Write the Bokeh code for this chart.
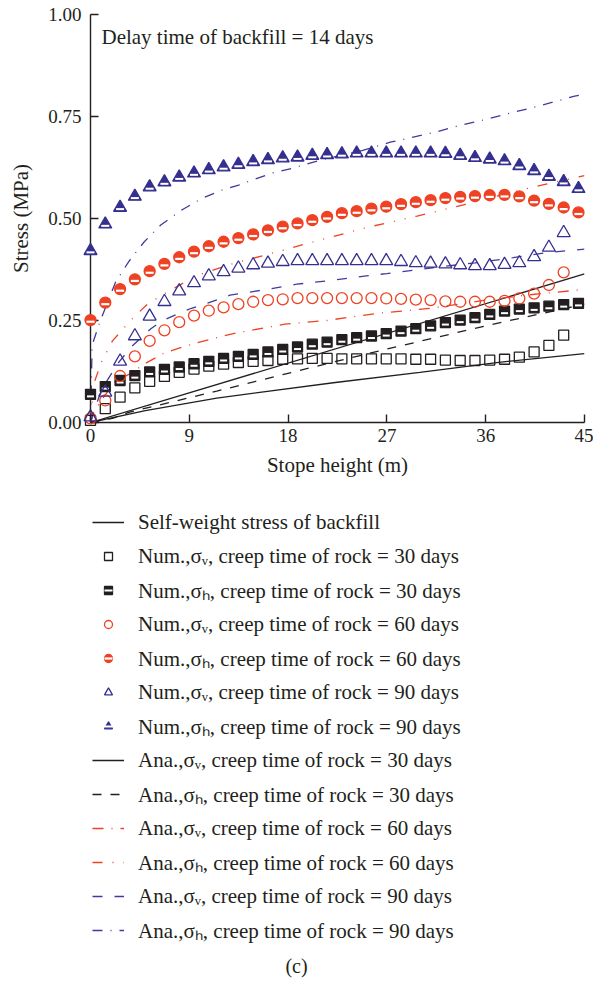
from bokeh.plotting import figure
from bokeh.layouts import column
from bokeh.models import (Range1d, Legend, LegendItem, Label, FixedTicker,
                          NumeralTickFormatter, ColumnDataSource)
from bokeh.transform import dodge
from bokeh.embed import file_html
from bokeh.resources import INLINE

# ---------------- data ----------------
X_TICKS = [0, 9, 18, 27, 36, 45]
Y_TICKS = [0.0, 0.25, 0.5, 0.75, 1.0]

# stope height of numerical points (m)
x_num = [0.0, 1.347, 2.694, 4.041, 5.388, 6.735, 8.082, 9.429, 10.776, 12.123,
         13.47, 14.817, 16.164, 17.511, 18.858, 20.205, 21.552, 22.899, 24.246,
         25.593, 26.94, 28.287, 29.634, 30.981, 32.328, 33.675, 35.022, 36.369,
         37.716, 39.063, 40.41, 41.757, 43.104, 44.451]

num_sv30 = [0.005, 0.034, 0.062, 0.085, 0.101, 0.113, 0.123, 0.131, 0.138, 0.143,
            0.147, 0.150, 0.152, 0.155, 0.156, 0.157, 0.157, 0.156, 0.156, 0.156,
            0.156, 0.156, 0.155, 0.155, 0.153, 0.152, 0.152, 0.153, 0.155, 0.160,
            0.173, 0.189, 0.214]
num_sh30 = [0.069, 0.088, 0.103, 0.115, 0.124, 0.130, 0.136, 0.144, 0.150, 0.157,
            0.162, 0.167, 0.173, 0.179, 0.185, 0.192, 0.197, 0.203, 0.208, 0.212,
            0.218, 0.224, 0.230, 0.237, 0.245, 0.251, 0.257, 0.265, 0.273, 0.278,
            0.281, 0.285, 0.289, 0.292]
num_sv60 = [0.010, 0.054, 0.114, 0.162, 0.200, 0.226, 0.246, 0.262, 0.274, 0.282,
            0.290, 0.296, 0.300, 0.302, 0.305, 0.305, 0.305, 0.305, 0.305, 0.305,
            0.304, 0.303, 0.301, 0.300, 0.297, 0.296, 0.296, 0.296, 0.298, 0.304,
            0.316, 0.337, 0.368]
num_sh60 = [0.251, 0.294, 0.327, 0.351, 0.371, 0.389, 0.405, 0.419, 0.432, 0.443,
            0.452, 0.461, 0.471, 0.480, 0.488, 0.496, 0.504, 0.513, 0.518, 0.524,
            0.529, 0.535, 0.540, 0.545, 0.550, 0.553, 0.555, 0.557, 0.558, 0.554,
            0.544, 0.536, 0.527, 0.515]
num_sv90 = [0.013, 0.074, 0.150, 0.212, 0.260, 0.296, 0.322, 0.342, 0.359, 0.369,
            0.378, 0.386, 0.390, 0.394, 0.396, 0.396, 0.396, 0.396, 0.396, 0.396,
            0.396, 0.394, 0.391, 0.390, 0.388, 0.386, 0.384, 0.384, 0.387, 0.391,
            0.406, 0.429, 0.465]
num_sh90 = [0.421, 0.486, 0.527, 0.554, 0.577, 0.589, 0.601, 0.611, 0.619, 0.626,
            0.632, 0.639, 0.644, 0.648, 0.650, 0.654, 0.656, 0.658, 0.660, 0.660,
            0.660, 0.660, 0.660, 0.660, 0.659, 0.654, 0.649, 0.645, 0.641, 0.629,
            0.617, 0.603, 0.590, 0.573]

# analytical / self-weight curves
sw_x = [0, 45]
sw_y = [0, 0.364]
ana_sv30_x = [0, 5, 11.5, 22.3, 30, 37, 45]
ana_sv30_y = [0, 0.029, 0.060, 0.098, 0.123, 0.147, 0.169]
ana_sh30_x = [0, 2, 3.5, 11.5, 21.5, 27, 36, 45]
ana_sh30_y = [0, 0.010, 0.025, 0.077, 0.144, 0.180, 0.237, 0.290]
ana_sv60_x = [0, 0.3, 1, 2.2, 3.7, 5, 6.7, 8.4, 10.2, 13, 17.7, 21.5, 26, 31, 36, 40, 45]
ana_sv60_y = [0, 0.025, 0.055, 0.099, 0.121, 0.145, 0.170, 0.185, 0.199, 0.218,
              0.241, 0.250, 0.267, 0.280, 0.300, 0.313, 0.326]
ana_sh60_x = [0, 0.3, 1, 2, 3.25, 4, 5.2, 6.5, 7.4, 8.8, 10.2, 12.8, 16.4, 21.4,
              25.5, 29.75, 33.9, 36.9, 41.1, 45]
ana_sh60_y = [0, 0.095, 0.148, 0.200, 0.238, 0.260, 0.290, 0.312, 0.326, 0.347,
              0.365, 0.388, 0.414, 0.451, 0.480, 0.506, 0.533, 0.554, 0.582, 0.605]
ana_sv90_x = [0, 0.8, 1.45, 2.5, 3.7, 5.5, 6.5, 8, 9.2, 10.6, 12.7, 16, 18.8, 21.5,
              25.3, 27, 29.9, 31.9, 35, 38.5, 41.5, 45]
ana_sv90_y = [0, 0.065, 0.100, 0.145, 0.185, 0.230, 0.249, 0.267, 0.280, 0.292,
              0.312, 0.326, 0.339, 0.347, 0.360, 0.365, 0.375, 0.382, 0.391, 0.404,
              0.416, 0.425]
ana_sh90_x = [0, 0.15, 0.9, 2.3, 3.5, 4.9, 6.4, 8.2, 10.2, 12, 13.5, 16.5, 18.4, 20,
              21.7, 24.8, 27.3, 29.3, 31.5, 33.6, 35.7, 38, 40, 42.1, 44.1, 45]
ana_sh90_y = [0, 0.19, 0.25, 0.345, 0.395, 0.443, 0.484, 0.519, 0.55, 0.57, 0.582,
              0.611, 0.623, 0.636, 0.648, 0.667, 0.687, 0.699, 0.712, 0.728, 0.741,
              0.757, 0.770, 0.785, 0.800, 0.804]

labels = [
    "Self-weight stress of backfill",
    "Num.,σᵥ, creep time of rock = 30 days",
    "Num.,σₕ, creep time of rock = 30 days",
    "Num.,σᵥ, creep time of rock = 60 days",
    "Num.,σₕ, creep time of rock = 60 days",
    "Num.,σᵥ, creep time of rock = 90 days",
    "Num.,σₕ, creep time of rock = 90 days",
    "Ana.,σᵥ, creep time of rock = 30 days",
    "Ana.,σₕ, creep time of rock = 30 days",
    "Ana.,σᵥ, creep time of rock = 60 days",
    "Ana.,σₕ, creep time of rock = 60 days",
    "Ana.,σᵥ, creep time of rock = 90 days",
    "Ana.,σₕ, creep time of rock = 90 days",
]

# ---------------- styling ----------------
BLACK = "#231F20"
RED = "#EF4123"
BLUE = "#352F8E"
BLUE_L = "#3F3A9E"
FONT = "Liberation Serif"
LW = 1.3

n_open = len(num_sv30)
src = {
    "sv30": ColumnDataSource(dict(x=x_num[:n_open], y=num_sv30)),
    "sh30": ColumnDataSource(dict(x=x_num, y=num_sh30)),
    "sv60": ColumnDataSource(dict(x=x_num[:n_open], y=num_sv60)),
    "sh60": ColumnDataSource(dict(x=x_num, y=num_sh60)),
    "sv90": ColumnDataSource(dict(x=x_num[:n_open], y=num_sv90)),
    "sh90": ColumnDataSource(dict(x=x_num, y=num_sh90)),
}


def draw_all(fig, level):
    """Draw every series on fig; returns renderer groups in legend order."""
    r_sw = fig.line(sw_x, sw_y, line_color=BLACK, line_width=LW)
    r_av30 = fig.line(ana_sv30_x, ana_sv30_y, line_color=BLACK, line_width=LW)
    r_ah30 = fig.line(ana_sh30_x, ana_sh30_y, line_color=BLACK, line_width=LW,
                      line_dash="9 9")
    r_av60 = fig.line(ana_sv60_x, ana_sv60_y, line_color=RED, line_width=LW,
                      line_dash="11 8 1 8")
    r_ah60 = fig.line(ana_sh60_x, ana_sh60_y, line_color=RED, line_width=LW,
                      line_dash="10 10 1 10 1 10")
    r_av90 = fig.line(ana_sv90_x, ana_sv90_y, line_color=BLUE_L, line_width=LW,
                      line_dash="10 12")
    r_ah90 = fig.line(ana_sh90_x, ana_sh90_y, line_color=BLUE_L, line_width=LW,
                      line_dash="10 8 1 8")

    r_nv30 = fig.scatter("x", "y", source=src["sv30"], marker="square", size=10,
                         line_color=BLACK, fill_alpha=0, line_width=1.3, level=level)
    r_nh30 = fig.scatter("x", "y", source=src["sh30"], marker="square", size=10,
                         line_color=BLACK, fill_color=BLACK, line_width=1.3, level=level)
    r_nh30b = fig.scatter("x", dodge("y", -0.005), source=src["sh30"], marker="dash",
                          size=7, line_color="white", line_width=2, level=level)
    r_nv60 = fig.scatter("x", "y", source=src["sv60"], marker="circle", size=11,
                         line_color=RED, fill_alpha=0, line_width=1.3, level=level)
    r_nh60 = fig.scatter("x", "y", source=src["sh60"], marker="circle", size=11,
                         line_color=RED, fill_color=RED, line_width=1.3, level=level)
    r_nh60b = fig.scatter("x", dodge("y", -0.004), source=src["sh60"], marker="dash",
                          size=8, line_color="white", line_width=2.2, level=level)
    r_nv90 = fig.scatter("x", "y", source=src["sv90"], marker="triangle", size=13,
                         line_color=BLUE, fill_alpha=0, line_width=1.3, level=level)
    r_nh90 = fig.scatter("x", "y", source=src["sh90"], marker="triangle", size=13,
                         line_color=BLUE, fill_color=BLUE, line_width=1.3, level=level)
    r_nh90b = fig.scatter("x", dodge("y", -0.004), source=src["sh90"], marker="dash",
                          size=8, line_color="white", line_width=2, level=level)
    return [
        [r_sw], [r_nv30], [r_nh30, r_nh30b], [r_nv60], [r_nh60, r_nh60b],
        [r_nv90], [r_nh90, r_nh90b], [r_av30], [r_ah30], [r_av60], [r_ah60],
        [r_av90], [r_ah90],
    ]


# ---------------- main chart ----------------
p = figure(width=593, height=490, output_backend="svg", toolbar_location=None,
           title=None, x_range=Range1d(0, 45), y_range=Range1d(0, 1),
           min_border_left=90, min_border_right=9, min_border_top=14,
           min_border_bottom=68)
p.grid.visible = False
p.outline_line_color = None

p.xaxis.ticker = FixedTicker(ticks=X_TICKS)
p.yaxis.ticker = FixedTicker(ticks=Y_TICKS)
p.yaxis.formatter = NumeralTickFormatter(format="0.00")
p.xaxis.axis_label = "Stope height (m)"
p.yaxis.axis_label = "Stress (MPa)"
for ax in (p.xaxis[0], p.yaxis[0]):
    ax.major_tick_in = 8
    ax.major_tick_out = 0
    ax.minor_tick_in = 0
    ax.minor_tick_out = 0
    ax.axis_line_color = BLACK
    ax.axis_line_width = 1.4
    ax.major_tick_line_color = BLACK
    ax.major_tick_line_width = 1.4
    ax.major_label_text_font = FONT
    ax.major_label_text_font_size = "19px"
    ax.major_label_text_color = BLACK
    ax.axis_label_text_font = FONT
    ax.axis_label_text_font_size = "21px"
    ax.axis_label_text_font_style = "normal"
    ax.axis_label_text_color = BLACK
p.xaxis.major_label_standoff = 6
p.xaxis.axis_label_standoff = 8
p.yaxis.major_label_standoff = 9
p.yaxis.axis_label_standoff = 12

draw_all(p, "overlay")

p.add_layout(Label(x=1.0, y=0.946, text="Delay time of backfill = 14 days",
                   text_font=FONT, text_font_size="21px", text_color=BLACK,
                   text_baseline="middle", text_align="left"))

# ---------------- legend panel ----------------
# same series drawn on a panel whose ranges show none of them; only the
# legend (and the caption) are visible here.  The column layout aligns this
# panel's frame with the chart's frame (left edge at x = 90).
q = figure(width=593, height=497, output_backend="svg", toolbar_location=None,
           title=None, x_range=Range1d(1000, 1001), y_range=Range1d(1000, 1001),
           min_border=0, x_axis_location=None, y_axis_location=None)
q.grid.visible = False
q.outline_line_color = None
groups = draw_all(q, "glyph")

items = [LegendItem(label=lab, renderers=rs) for lab, rs in zip(labels, groups)]
legend = Legend(items=items, location=(2, 42), orientation="vertical",
                border_line_color=None, background_fill_alpha=0,
                label_text_font=FONT, label_text_font_size="21px",
                label_text_color=BLACK, glyph_width=32, glyph_height=20,
                label_height=30, spacing=4, label_standoff=14,
                padding=0, margin=0)
q.add_layout(legend)
q.add_layout(Label(x=206, y=22, x_units="screen", y_units="screen", text="(c)",
                   text_font=FONT, text_font_size="20px", text_color=BLACK,
                   text_baseline="middle", text_align="center"))

layout = column(p, q, spacing=0)
open("out.html", "w").write(file_html(layout, INLINE))
